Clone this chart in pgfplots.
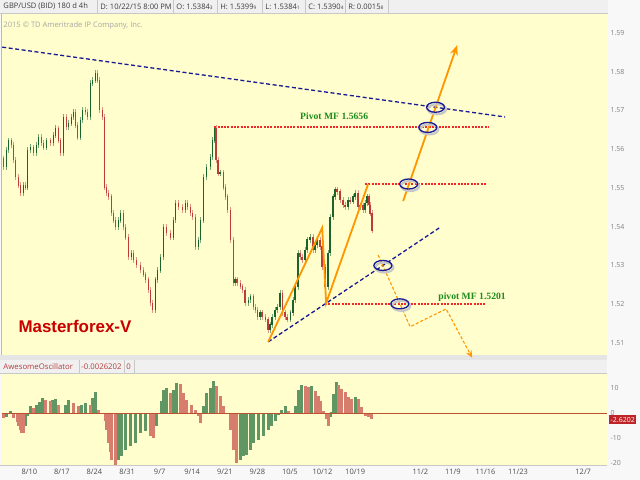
\documentclass[border=0pt]{standalone}
\usepackage{fontspec}
\setmainfont{Open Sans}
\newfontfamily\arialfont{Liberation Sans}
\newfontfamily\timesfont{Liberation Serif}
\usepackage{pgfplots}
\pgfplotsset{compat=1.18}
\usepackage{pgfplotstable}
\usetikzlibrary{arrows.meta}

\definecolor{yel}{RGB}{255,254,204}
\definecolor{bgc}{RGB}{248,248,248}
\definecolor{hdr}{RGB}{240,240,240}
\definecolor{hdrline}{RGB}{200,200,200}
\definecolor{navy}{RGB}{25,25,150}
\definecolor{pivred}{RGB}{240,40,40}
\definecolor{orng}{RGB}{255,150,0}
\definecolor{pivgreen}{RGB}{30,140,30}
\definecolor{mfred}{RGB}{200,0,0}
\definecolor{upbody}{RGB}{25,100,45}
\definecolor{upwick}{RGB}{120,170,120}
\definecolor{dnbody}{RGB}{190,60,55}
\definecolor{dnwick}{RGB}{225,150,140}
\definecolor{aoup}{RGB}{95,150,100}
\definecolor{aodn}{RGB}{215,125,110}
\definecolor{zeroline}{RGB}{190,80,50}
\definecolor{boxred}{RGB}{190,35,40}
\definecolor{hdrtext}{RGB}{60,60,60}
\definecolor{aotext}{RGB}{180,60,60}

\pgfplotsset{
  onlyup/.style={restrict expr to domain={\thisrow{u}}{0.5:1.5}},
  onlydn/.style={restrict expr to domain={\thisrow{u}}{-0.5:0.5}},
}
\newcommand\sub[1]{{\fontsize{4.8}{5}\selectfont #1}}

\pgfplotstableread{
d o c u
-5.58 1.5575 1.5554 0
-4.94 1.5554 1.5598 1
-4.51 1.5598 1.5623 1
-3.87 1.5623 1.5611 0
-3.44 1.5611 1.5572 0
-3.01 1.5572 1.5528 0
-2.36 1.5528 1.5507 0
-1.93 1.5507 1.5487 0
-1.29 1.5487 1.5507 1
-0.86 1.5507 1.5502 0
-0.43 1.5502 1.5598 1
0.21 1.5598 1.5605 1
0.86 1.5605 1.5590 0
1.50 1.5590 1.5611 1
1.93 1.5611 1.5631 1
2.58 1.5631 1.5616 0
3.01 1.5616 1.5605 0
3.65 1.5605 1.5623 1
4.51 1.5623 1.5616 0
5.15 1.5616 1.5636 1
5.58 1.5636 1.5654 1
6.23 1.5654 1.5623 0
6.66 1.5623 1.5590 0
7.30 1.5590 1.5683 1
7.95 1.5683 1.5657 0
8.37 1.5657 1.5667 1
9.02 1.5667 1.5683 1
9.45 1.5683 1.5696 1
9.88 1.5696 1.5662 0
10.31 1.5662 1.5631 0
10.95 1.5631 1.5675 1
11.38 1.5675 1.5701 1
12.02 1.5701 1.5696 0
12.45 1.5696 1.5683 0
13.10 1.5683 1.5770 1
13.53 1.5770 1.5778 1
14.17 1.5778 1.5796 1
14.60 1.5796 1.5778 0
15.03 1.5778 1.5701 0
15.68 1.5701 1.5683 0
16.10 1.5683 1.5502 0
16.53 1.5502 1.5487 0
16.96 1.5487 1.5477 0
17.61 1.5477 1.5435 0
18.04 1.5435 1.5417 0
18.47 1.5417 1.5399 0
19.11 1.5399 1.5417 1
19.54 1.5417 1.5435 1
20.18 1.5435 1.5399 0
20.61 1.5399 1.5373 0
21.26 1.5373 1.5322 0
21.90 1.5322 1.5332 1
22.33 1.5332 1.5314 0
22.98 1.5314 1.5301 0
23.84 1.5301 1.5288 0
24.48 1.5288 1.5276 0
24.91 1.5276 1.5263 0
25.55 1.5263 1.5237 0
25.98 1.5237 1.5203 0
26.41 1.5203 1.5185 0
27.06 1.5185 1.5263 1
27.49 1.5263 1.5288 1
28.13 1.5288 1.5322 1
28.77 1.5322 1.5399 1
29.42 1.5399 1.5384 0
30.28 1.5384 1.5373 0
30.92 1.5373 1.5417 1
31.35 1.5417 1.5461 1
32.00 1.5461 1.5451 0
32.85 1.5451 1.5443 0
33.50 1.5443 1.5461 1
33.93 1.5461 1.5451 0
34.57 1.5451 1.5435 0
35.00 1.5435 1.5425 0
35.65 1.5425 1.5348 0
36.29 1.5348 1.5366 1
36.72 1.5366 1.5417 1
37.36 1.5417 1.5528 1
38.01 1.5528 1.5554 1
38.87 1.5554 1.5580 1
39.30 1.5580 1.5623 1
39.73 1.5623 1.5654 1
40.15 1.5654 1.5572 0
40.58 1.5572 1.5538 0
41.01 1.5538 1.5540 1
41.66 1.5540 1.5502 0
42.09 1.5502 1.5477 0
42.52 1.5477 1.5443 0
43.16 1.5443 1.5366 0
43.81 1.5366 1.5255 0
44.23 1.5255 1.5263 1
44.66 1.5263 1.5255 0
45.31 1.5255 1.5245 0
45.74 1.5245 1.5237 0
46.38 1.5237 1.5203 0
47.03 1.5203 1.5211 1
47.46 1.5211 1.5219 1
48.10 1.5219 1.5193 0
48.53 1.5193 1.5185 0
48.96 1.5185 1.5167 0
49.60 1.5167 1.5178 1
50.03 1.5178 1.5167 0
50.68 1.5167 1.5160 0
51.32 1.5160 1.5134 0
51.75 1.5134 1.5147 1
52.18 1.5147 1.5167 1
52.82 1.5167 1.5185 1
53.25 1.5185 1.5193 1
53.90 1.5193 1.5229 1
54.33 1.5229 1.5178 0
54.97 1.5178 1.5167 0
55.40 1.5167 1.5160 0
56.05 1.5160 1.5178 1
56.69 1.5178 1.5211 1
57.12 1.5211 1.5245 1
57.76 1.5245 1.5332 1
58.19 1.5332 1.5322 0
58.62 1.5322 1.5314 0
59.27 1.5314 1.5340 1
59.70 1.5340 1.5366 1
60.34 1.5366 1.5373 1
60.98 1.5373 1.5340 0
61.41 1.5340 1.5353 1
61.84 1.5353 1.5366 1
62.49 1.5366 1.5348 0
62.92 1.5348 1.5296 0
63.56 1.5296 1.5245 0
64.20 1.5245 1.5332 1
64.63 1.5332 1.5425 1
65.28 1.5425 1.5477 1
65.71 1.5477 1.5495 1
66.14 1.5495 1.5490 0
66.78 1.5490 1.5469 0
67.43 1.5469 1.5456 0
67.85 1.5456 1.5451 0
68.50 1.5451 1.5469 1
68.93 1.5469 1.5465 0
69.57 1.5465 1.5477 1
70.00 1.5477 1.5487 1
70.65 1.5487 1.5451 0
71.08 1.5451 1.5455 1
71.72 1.5455 1.5443 0
72.15 1.5443 1.5461 1
72.58 1.5461 1.5477 1
73.01 1.5477 1.5456 0
73.22 1.5456 1.5435 0
73.65 1.5435 1.5390 0
}\candles

\pgfplotstableread{
d v u
-5.52 -2.0 0
-4.79 -1.6 1
-4.08 0.7 1
-3.37 -2.0 0
-2.64 -3.5 0
-2.30 -5.3 0
-1.93 -7.0 0
-1.57 -8.0 0
-1.22 -8.2 0
-0.86 -5.3 1
-0.49 -1.3 1
0.21 2.7 1
0.92 2.0 0
1.65 3.3 1
2.21 4.5 1
2.73 6.0 1
3.44 5.3 0
4.51 4.7 0
5.09 5.3 1
5.58 5.6 1
6.29 3.3 0
7.02 0.2 0
7.73 3.3 1
8.44 5.3 1
9.51 4.0 0
10.59 2.7 0
11.32 3.3 1
12.02 4.0 1
13.10 3.3 0
13.68 6.0 1
14.17 8.3 1
14.88 1.3 0
15.61 0.2 0
16.32 -3.3 0
16.68 -7.0 0
17.03 -12.0 0
17.39 -15.5 0
17.76 -18.7 0
18.47 -20.7 0
19.18 -18.7 1
19.91 -17.3 1
20.61 -14.7 1
21.69 -13.3 1
22.76 -12.0 1
23.84 -8.0 1
24.91 -7.3 1
25.98 -9.3 0
26.69 -10.0 0
27.42 -5.3 1
28.13 -0.3 1
28.49 5.0 1
28.84 9.3 1
29.57 10.0 1
30.28 8.0 0
30.99 9.3 1
31.72 12.0 1
32.42 11.8 0
33.13 8.0 0
33.86 5.3 0
34.94 3.3 0
35.65 1.3 0
36.35 -1.3 0
36.72 -4.0 0
37.43 2.7 1
38.16 8.0 1
38.87 10.0 1
39.57 12.7 1
40.30 10.7 0
41.01 6.7 0
41.72 2.7 0
42.45 0.2 0
43.16 -6.7 0
43.87 -14.7 0
44.60 -20.0 0
45.31 -18.7 1
46.02 -17.3 1
46.75 -17.0 1
47.46 -14.7 1
48.16 -12.0 1
49.24 -10.7 1
50.31 -9.3 1
51.38 -6.7 1
52.12 -5.3 1
52.82 -3.3 1
53.53 -0.7 1
54.26 1.3 1
54.97 2.7 1
55.68 0.7 0
56.41 -0.3 0
57.12 2.7 1
57.83 9.3 1
58.56 11.3 1
59.27 10.7 0
59.97 10.5 0
60.70 11.0 1
61.41 8.7 0
62.12 6.7 0
62.49 5.0 0
63.20 1.0 0
63.93 -2.3 0
64.27 -5.3 0
64.63 -1.5 1
65.00 0.4 1
65.34 7.7 1
65.92 12.4 1
66.42 11.1 0
67.15 9.8 0
67.85 8.4 0
68.56 6.4 0
69.29 5.7 0
70.00 6.4 1
70.71 5.7 0
71.44 2.4 0
72.15 -1.0 0
72.86 -1.6 0
73.59 -2.3 0
}\aodata

\begin{document}
\begin{tikzpicture}[x=1bp,y=1bp]
\fill[bgc] (0,0) rectangle (640,480);
% top header bar
\fill[hdr] (0,467) rectangle (608,480);
\draw[hdrline] (0,466.5) -- (608,466.5);
\foreach \xx in {97,173,217,262,305,345,388} \draw[hdrline] (\xx,467) -- (\xx,480);
\begin{scope}[every node/.style={anchor=west, inner sep=0pt, font=\fontsize{7.6}{9}\selectfont, text=hdrtext}]
\node at (3,473.5) {GBP/USD (BID) 180 d 4h};
\node at (100,473.5) {D: 10/22/15 8:00 PM};
\node at (176,473.5) {O: 1.5384\sub{3}};
\node at (220,473.5) {H: 1.5399\sub{9}};
\node at (265,473.5) {L: 1.5384\sub{1}};
\node at (308,473.5) {C: 1.5390\sub{4}};
\node at (348,473.5) {R: 0.0015\sub{8}};
\end{scope}
% separator between panels and AO header
\fill[black!10] (0,120) rectangle (607,125);
\fill[hdr] (0,107) rectangle (607,120);
\draw[hdrline] (0,107) -- (607,107);
\foreach \xx in {79,124,134} \draw[hdrline] (\xx,107) -- (\xx,120);
\begin{scope}[every node/.style={anchor=west, inner sep=0pt, font=\fontsize{7.8}{9}\selectfont, text=aotext}]
\node at (3,113.5) {AwesomeOscillator};
\node at (81,113.5) {-0.0026202};
\node at (126,113.5) {0};
\end{scope}
\draw[hdrline] (0,14.5) -- (607,14.5);

\begin{axis}[
  at={(2bp,125bp)}, anchor=south west, scale only axis,
  width=605bp, height=341bp,
  xmin=-5.80, xmax=124.11, ymin=1.5069, ymax=1.5948,
  axis background/.style={fill=yel},
  axis line style={draw=none},
  xtick=\empty,
  ytick={1.51,1.52,1.53,1.54,1.55,1.56,1.57,1.58,1.59},
  yticklabel pos=right,
  major tick length=0pt,
  yticklabel style={font=\fontsize{7}{8}\selectfont, text=black!50, xshift=0bp,
    /pgf/number format/fixed, /pgf/number format/fixed zerofill,
    /pgf/number format/precision=2, /pgf/number format/assume math mode=true},
  clip=false,
]
% wicks
\addplot[draw=none, mark=none, onlyup,
  error bars/.cd, y dir=both, y explicit, error mark=none,
  error bar style={draw=upwick, solid, line width=0.7bp}]
  table[x=d, y expr={(\thisrow{o}+\thisrow{c})/2}, y error expr={abs(\thisrow{c}-\thisrow{o})/2+0.0007}] {\candles};
\addplot[draw=none, mark=none, onlydn,
  error bars/.cd, y dir=both, y explicit, error mark=none,
  error bar style={draw=dnwick, solid, line width=0.7bp}]
  table[x=d, y expr={(\thisrow{o}+\thisrow{c})/2}, y error expr={abs(\thisrow{c}-\thisrow{o})/2+0.0007}] {\candles};
% bodies
\addplot[draw=none, mark=none, onlyup,
  error bars/.cd, y dir=both, y explicit, error mark=none,
  error bar style={draw=upbody, solid, line width=1.4bp}]
  table[x=d, y expr={(\thisrow{o}+\thisrow{c})/2}, y error expr={abs(\thisrow{c}-\thisrow{o})/2+0.0001}] {\candles};
\addplot[draw=none, mark=none, onlydn,
  error bars/.cd, y dir=both, y explicit, error mark=none,
  error bar style={draw=dnbody, solid, line width=1.4bp}]
  table[x=d, y expr={(\thisrow{o}+\thisrow{c})/2}, y error expr={abs(\thisrow{c}-\thisrow{o})/2+0.0001}] {\candles};
% trend lines
\addplot[navy, line width=1.3bp, dash pattern=on 4bp off 2.5bp] coordinates {(-5.80,1.5863) (102.21,1.5683)};
\addplot[navy, line width=1.3bp, dash pattern=on 4bp off 2.5bp] coordinates {(51.32,1.5103) (88.47,1.5400)};
% pivot lines
\addplot[draw=pivred, line width=1.2bp, dash pattern=on 2bp off 1.3bp] coordinates {(39.73,1.5657) (98.56,1.5657)};
\addplot[draw=pivred, line width=1.2bp, dash pattern=on 2bp off 1.3bp] coordinates {(72.15,1.5510) (98.13,1.5510)};
\addplot[draw=pivred, line width=1.2bp, dash pattern=on 2bp off 1.3bp] coordinates {(63.56,1.52005) (97.92,1.52005)};
% orange waves
\addplot[orng, line width=1.8bp] coordinates {(51.32,1.5103) (62.92,1.5397) (63.77,1.5203) (72.79,1.5510)};
\addplot[orng, line width=1.8bp, -{Stealth[length=10bp,width=8bp]}] coordinates {(80.31,1.5466) (91.91,1.5868)};
\addplot[orng, line width=1.1bp, dash pattern=on 3bp off 2bp, -{Stealth[length=7bp,width=6bp]}] coordinates {(74.94,1.5327) (81.81,1.5142) (89.54,1.5188) (95.13,1.5062)};
% ellipses (shadow + outline)
\addplot[only marks, mark=o, mark size=5bp, mark options={xshift=1.5bp, yshift=-2bp, xscale=1.8, line width=2.2bp, draw=black!22, solid}]
  coordinates {(87.27,1.5708) (85.6,1.5656) (81.5,1.5510) (75.95,1.5300) (79.6,1.5201)};
\addplot[only marks, mark=o, mark size=5bp, mark options={xscale=1.8, line width=1.3bp, draw=navy, solid}]
  coordinates {(87.27,1.5708) (85.6,1.5656) (81.5,1.5510) (75.95,1.5300) (79.6,1.5201)};
% labels
\node[font=\timesfont\bfseries\fontsize{9.7}{10}\selectfont, text=pivgreen, inner sep=0pt] at (axis cs:65.49,1.5685) {Pivot MF 1.5656};
\node[font=\timesfont\bfseries\fontsize{9.7}{10}\selectfont, text=pivgreen, inner sep=0pt] at (axis cs:95.12,1.5219) {pivot MF 1.5201};
\node[anchor=base west, font=\arialfont\bfseries\fontsize{17}{18}\selectfont, text=mfred, inner sep=0pt] at (axis cs:-2.36,1.5126) {Masterforex-V};
\end{axis}

% copyright
\node[anchor=west, inner sep=0pt, font=\fontsize{7.6}{8}\selectfont, text=black!35] at (3,455) {2015 \textcopyright{} TD Ameritrade IP Company, Inc.};
\draw[black!20!blue!30, line width=0.8bp] (1,125) -- (1,466);

\begin{axis}[
  at={(2bp,15bp)}, anchor=south west, scale only axis,
  width=605bp, height=91bp,
  xmin=-5.80, xmax=124.11, ymin=-20.8, ymax=15.6,
  axis background/.style={fill=yel},
  axis line style={draw=none},
  major tick length=0pt,
  xtick={0,7,14,21,28,35,42,49,56,63,70,84,91,98,105,119},
  xticklabels={8/10,8/17,8/24,8/31,9/7,9/14,9/21,9/28,10/5,10/12,10/19,11/2,11/9,11/16,11/23,12/7},
  xticklabel style={font=\fontsize{7.5}{9}\selectfont, text=black!70, yshift=-1bp},
  ytick={-20,-10,0,10},
  yticklabel pos=right,
  yticklabel style={font=\fontsize{7}{8}\selectfont, text=black!50,
    /pgf/number format/assume math mode=true},
  clip=false,
]
\addplot[ycomb, aoup, line width=3bp, mark=none, onlyup] table[x=d, y=v] {\aodata};
\addplot[ycomb, aodn, line width=3bp, mark=none, onlydn] table[x=d, y=v] {\aodata};
\addplot[zeroline, line width=0.9bp] coordinates {(-5.80,0) (124.11,0)};
\coordinate (aoval) at (axis cs:124.11,-2.62);
\end{axis}
\node[anchor=west, fill=boxred, text=white, inner sep=1.5bp, font=\fontsize{7}{8}\selectfont] at ([xshift=2bp]aoval) {-2.6202};
\end{tikzpicture}
\end{document}
